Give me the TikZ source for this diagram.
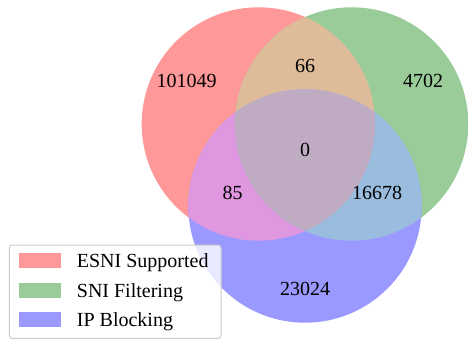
\documentclass[tikz,border=0pt]{standalone}
\usepackage{fontspec}
\setmainfont{Liberation Serif}
\usetikzlibrary{positioning}
\definecolor{cEsni}{RGB}{255,153,153}
\definecolor{cSni}{RGB}{153,204,153}
\definecolor{cIp}{RGB}{153,153,255}
\definecolor{cEsniSni}{RGB}{223,188,153}
\definecolor{cEsniIp}{RGB}{223,152,223}
\definecolor{cSniIp}{RGB}{153,188,223}
\definecolor{cAll}{RGB}{191,172,194}
\begin{document}
\begin{tikzpicture}[x=1pt,y=-1pt,
  cnt/.style={font=\fontsize{20}{24}\selectfont,inner sep=0pt,anchor=base},
  lgd/.style={font=\fontsize{20}{24}\selectfont,inner sep=0pt,anchor=base west},
  swatch/.style={minimum width=42pt,minimum height=14.4pt,inner sep=0pt,anchor=south west},
  frame/.style={draw=black!20,line width=1pt,rounded corners=3pt,fill=white,fill opacity=0.8}
]
  \useasboundingbox (0,0) rectangle (468,339);
  \coordinate (cE) at (258.4,124);
  \coordinate (cS) at (351.6,124);
  \coordinate (cI) at (305,206);
  \def\rad{116.7}
  % single sets
  \fill[cEsni] (cE) circle[radius=\rad];
  \fill[cSni] (cS) circle[radius=\rad];
  \fill[cIp] (cI) circle[radius=\rad];
  % pairwise overlaps
  \begin{scope}
    \clip (cE) circle[radius=\rad];
    \fill[cEsniSni] (cS) circle[radius=\rad];
    \fill[cEsniIp] (cI) circle[radius=\rad];
  \end{scope}
  \begin{scope}
    \clip (cS) circle[radius=\rad];
    \fill[cSniIp] (cI) circle[radius=\rad];
  \end{scope}
  % triple overlap
  \begin{scope}
    \clip (cE) circle[radius=\rad];
    \clip (cS) circle[radius=\rad];
    \fill[cAll] (cI) circle[radius=\rad];
  \end{scope}

  \node[cnt] (nE)   at (186.5,88) {101049};
  \node[cnt] (nES)  at (305,73)   {66};
  \node[cnt] (nS)   at (423,88)   {4702};
  \node[cnt] (nESI) at (305,157)  {0};
  \node[cnt] (nEI)  at (232.5,199){85};
  \node[cnt] (nSI)  at (377,199)  {16678};
  \node[cnt] (nI)   at (305,295)  {23024};

  % legend
  \draw[frame] (9.3,245) rectangle (221,338.4);
  \node[swatch,fill=cEsni] (sE) at (18.3,267.7) {};
  \node[swatch,fill=cSni]  (sS) at (18.3,297.7) {};
  \node[swatch,fill=cIp]   (sI) at (18.3,326.9) {};
  \node[lgd] (tE) at (76.7,267.7) {ESNI Supported};
  \node[lgd] (tS) at (76.7,297.7) {SNI Filtering};
  \node[lgd] (tI) at (76.7,326.9) {IP Blocking};
\end{tikzpicture}
\end{document}
